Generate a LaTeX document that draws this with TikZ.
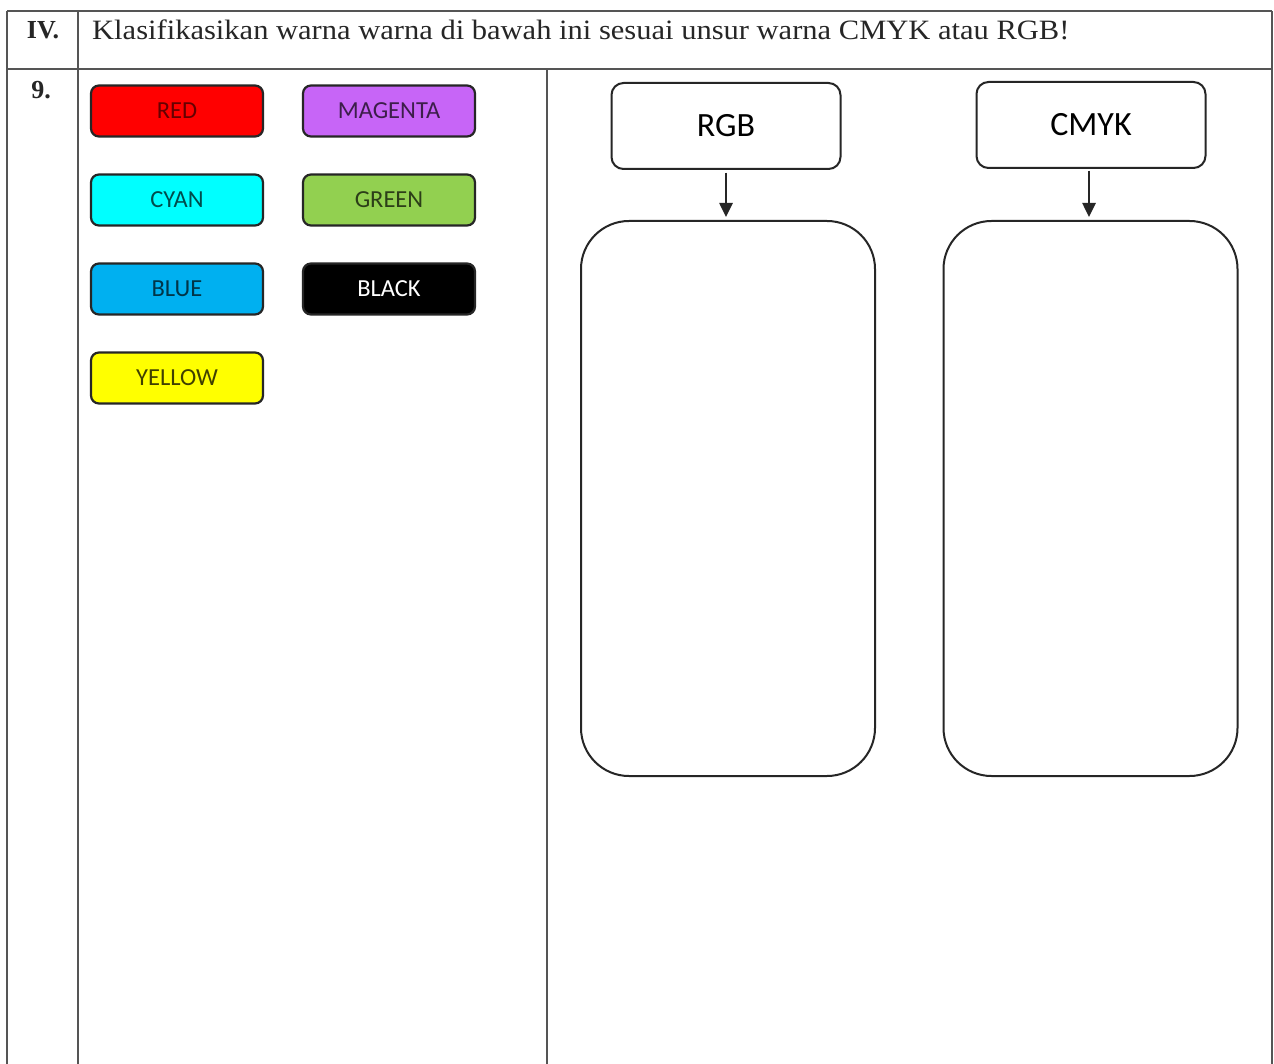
\documentclass[tikz,border=0pt]{standalone}
\usepackage{fontspec}
\setmainfont{Liberation Serif}
\newfontfamily\titlefont[FakeStretch=1.09]{Liberation Serif}
\newfontfamily\calib{Carlito}
\usetikzlibrary{arrows.meta}
\definecolor{cRed}{HTML}{FF0000}
\definecolor{cMag}{HTML}{C765F7}
\definecolor{cCyan}{HTML}{00FFFF}
\definecolor{cGreen}{HTML}{92D050}
\definecolor{cBlue}{HTML}{00B0F0}
\definecolor{cYellow}{HTML}{FFFF00}
\definecolor{rule}{HTML}{555555}
\tikzset{
  tbl/.style={draw=rule, line width=1.3pt},
  chip/.style={draw=black!85, line width=2.2pt, rounded corners=8pt, minimum width=172pt, minimum height=51pt, inner sep=0pt, font=\calib\fontsize{24.5}{28}\selectfont},
  head/.style={draw=black!85, line width=2pt, rounded corners=12pt, minimum width=229pt, minimum height=86pt, inner sep=0pt, font=\calib\fontsize{34}{38}\selectfont},
  bin/.style={draw=black!85, line width=2pt, rounded corners=48pt, minimum width=294pt, minimum height=555pt, inner sep=0pt},
  arr/.style={-{Triangle[length=14pt,width=13pt]}, line width=2.6pt, draw=black!85, fill=black!85, shorten <=3pt, shorten >=3pt}
}
\begin{document}
\begin{tikzpicture}[x=1pt,y=-1pt]
\useasboundingbox (0,0) rectangle (1274,1064);
\fill[white] (0,0) rectangle (1274,1064);
% table
\draw[tbl] (7,11) -- (1272,11);
\draw[tbl] (7,69) -- (1272,69);
\draw[tbl] (7,11) -- (7,1064);
\draw[tbl] (78,11) -- (78,1064);
\draw[tbl] (547,69) -- (547,1064);
\draw[tbl] (1272,11) -- (1272,1064);
\node[font=\bfseries\fontsize{26}{30}\selectfont, text=black!85] (iv) at (43,30) {IV.};
\node[font=\titlefont\fontsize{28}{32}\selectfont, anchor=west, inner sep=0pt, text=black!85] (title) at (92,30) {Klasifikasikan warna warna di bawah ini sesuai unsur warna CMYK atau RGB!};
\node[font=\bfseries\fontsize{26}{30}\selectfont, text=black!85] (nine) at (41,90) {9.};
% chips
\node[chip, fill=cRed, text=cRed!40!black] (red) at (177,111) {RED};
\node[chip, fill=cMag, text=cMag!30!black] (mag) at (389,111) {MAGENTA};
\node[chip, fill=cCyan, text=cCyan!30!black] (cyan) at (177,200) {CYAN};
\node[chip, fill=cGreen, text=cGreen!30!black] (green) at (389,200) {GREEN};
\node[chip, fill=cBlue, text=cBlue!30!black] (blue) at (177,289) {BLUE};
\node[chip, fill=black, text=white] (black) at (389,289) {BLACK};
\node[chip, fill=cYellow, text=cYellow!25!black] (yellow) at (177,378) {YELLOW};
% headings
\node[head] (rgb) at (726,126) {RGB};
\node[head] (cmyk) at (1091,125) {CMYK};
\node[bin] (rgbbin) at (728,498.5) {};
\node[bin] (cmykbin) at (1090.5,498.5) {};
\draw[arr] (rgb.south) -- (rgb.south |- rgbbin.north);
\coordinate (cm1) at (1089,168);
\draw[arr] (cm1) -- (cm1 |- cmykbin.north);
\end{tikzpicture}
\end{document}
